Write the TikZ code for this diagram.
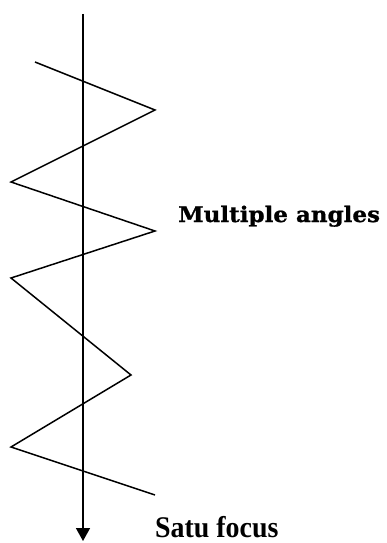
\documentclass[tikz,border=0pt]{standalone}
\usepackage{fontspec}
\newfontfamily\satufont[FakeStretch=0.93]{Liberation Serif}
\newfontfamily\anglefont[FakeStretch=1.07,FakeBold=1]{DejaVu Serif}
\usetikzlibrary{arrows.meta}
\definecolor{FigInk}{HTML}{000000}
\tikzset{
  fig/axis/.style={
    -{Triangle[length=13pt,width=14pt]}, line width=1.5pt, draw=FigInk
  },
  fig/zigzag/.style={line width=1.5pt, draw=FigInk, line join=miter},
  fig/label/.style={font=\anglefont\bfseries\fontsize{21.5}{24}\selectfont,
    text=FigInk, anchor=base west, inner sep=0pt},
  fig/focus/.style={font=\satufont\bfseries\fontsize{30}{33}\selectfont,
    text=FigInk, anchor=base west, inner sep=0pt}
}
\begin{document}
\begin{tikzpicture}[x=1pt,y=-1pt]
  \useasboundingbox (0,0) rectangle (387,543);
  % axis and the zigzag ray
  \coordinate (top) at (83,14);
  \coordinate (tip) at (83,541);
  \draw[fig/axis] (top) -- (tip);
  \draw[fig/zigzag] (35,62) -- (155,110) -- (11,182) -- (155,231)
    -- (11,278) -- (131,375) -- (11,447) -- (155,495);
  % labels
  \node[fig/label] (angles) at (178,222) {Multiple angles};
  \node[fig/focus] (focus) at (155,537) {Satu focus};
\end{tikzpicture}
\end{document}
